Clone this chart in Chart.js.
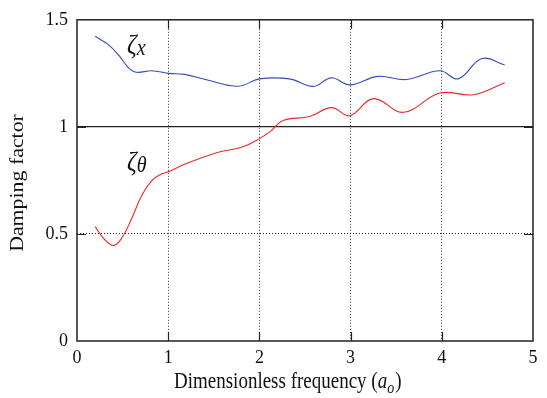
<!DOCTYPE html>
<html>
<head>
<meta charset="utf-8">
<script src="https://cdn.jsdelivr.net/npm/chart.js@4.4.0/dist/chart.umd.min.js"></script>
<style>
  html, body { margin: 0; padding: 0; background: #fff; }
  #wrap { width: 547px; height: 398px; position: relative; }
</style>
</head>
<body>
<div id="wrap"><canvas id="chart" width="547" height="398"></canvas></div>
<script>
// data
const xTicks = [0, 1, 2, 3, 4, 5];
const yTicks = [0, 0.5, 1, 1.5];

const zetaXFreq = [0.2, 0.34, 0.45, 0.56, 0.65, 0.82, 1.0, 1.18, 1.42, 1.77, 2.0, 2.33, 2.59, 2.79, 2.99, 3.3, 3.61, 3.98, 4.18, 4.44, 4.69];
const zetaX = [1.423, 1.385, 1.339, 1.278, 1.255, 1.262, 1.25, 1.245, 1.22, 1.19, 1.224, 1.224, 1.189, 1.229, 1.196, 1.236, 1.221, 1.262, 1.224, 1.319, 1.289];

const zetaThFreq = [0.2, 0.29, 0.4, 0.49, 0.6, 0.71, 0.82, 0.91, 1.0, 1.18, 1.53, 1.82, 2.0, 2.12, 2.26, 2.55, 2.79, 2.99, 3.25, 3.58, 3.98, 4.35, 4.69];
const zetaTh = [0.534, 0.48, 0.446, 0.48, 0.572, 0.68, 0.749, 0.776, 0.79, 0.825, 0.879, 0.907, 0.945, 0.979, 1.03, 1.048, 1.09, 1.052, 1.132, 1.068, 1.158, 1.15, 1.206];

const SERIF = '"Liberation Serif", "Times New Roman", serif';

function toPoints(xs, ys) {
    return xs.map((x, i) => ({ x: x, y: ys[i] }));
}

// frame, inward ticks, axis titles and curve labels
const decorations = {
    id: 'decorations',
    afterDraw(chart) {
        const ctx = chart.ctx;
        const a = chart.chartArea;
        const xs = chart.scales.x;
        const ys = chart.scales.y;
        const tl = 9;

        ctx.save();
        ctx.strokeStyle = '#222';
        ctx.lineWidth = 1.5;
        ctx.strokeRect(a.left, a.top, a.right - a.left, a.bottom - a.top);

        ctx.lineWidth = 1.2;
        ctx.beginPath();
        xTicks.slice(1, -1).forEach(v => {
            const px = Math.round(xs.getPixelForValue(v)) + 0.5;
            ctx.moveTo(px, a.top); ctx.lineTo(px, a.top + tl);
            ctx.moveTo(px, a.bottom); ctx.lineTo(px, a.bottom - tl);
        });
        yTicks.slice(1, -1).forEach(v => {
            const py = Math.round(ys.getPixelForValue(v)) + 0.5;
            ctx.moveTo(a.left, py); ctx.lineTo(a.left + tl, py);
            ctx.moveTo(a.right, py); ctx.lineTo(a.right - tl, py);
        });
        ctx.stroke();

        ctx.fillStyle = '#111';
        ctx.textBaseline = 'alphabetic';
        ctx.textAlign = 'left';

        // x title
        ctx.save();
        ctx.translate(174, 388);
        ctx.scale(1, 1.2);
        let x = 0;
        ctx.font = '19px ' + SERIF;
        const t1 = 'Dimensionless frequency (';
        ctx.fillText(t1, x, 0); x += ctx.measureText(t1).width;
        ctx.font = 'italic 19px ' + SERIF;
        ctx.fillText('a', x, 0); x += ctx.measureText('a').width;
        ctx.font = 'italic 14px ' + SERIF;
        ctx.fillText('o', x, 4); x += ctx.measureText('o').width + 1;
        ctx.font = '19px ' + SERIF;
        ctx.fillText(')', x, 0);
        ctx.restore();

        // y title
        ctx.save();
        ctx.translate(23, 183);
        ctx.rotate(-Math.PI / 2);
        ctx.scale(1.15, 1);
        ctx.font = '19px ' + SERIF;
        ctx.textAlign = 'center';
        ctx.fillText('Damping factor', 0, 0);
        ctx.restore();

        // curve labels
        const label = (sub, px, py) => {
            ctx.save();
            ctx.translate(px, py);
            ctx.scale(1, 1.12);
            ctx.font = 'italic 24px ' + SERIF;
            ctx.fillText('\u03b6', 0, 0);
            const w = ctx.measureText('\u03b6').width;
            ctx.font = 'italic 20px ' + SERIF;
            ctx.fillText(sub, w, 2);
            ctx.restore();
        };
        label('x', 127, 53);
        label('\u03b8', 127, 170);

        ctx.restore();
    }
};

new Chart(document.getElementById('chart'), {
    type: 'line',
    data: {
        datasets: [{
            label: 'zeta x',
            data: toPoints(zetaXFreq, zetaX),
            borderColor: 'rgb(55, 75, 185)',
            borderWidth: 1.1,
            pointRadius: 0,
            fill: false,
            tension: 0.4
        }, {
            label: 'zeta theta',
            data: toPoints(zetaThFreq, zetaTh),
            borderColor: 'rgb(232, 40, 35)',
            borderWidth: 1.1,
            pointRadius: 0,
            fill: false,
            tension: 0.4
        }]
    },
    options: {
        responsive: false,
        animation: false,
        layout: { padding: { left: 0, top: 15, right: 14, bottom: 0 } },
        plugins: {
            legend: { display: false },
            tooltip: { enabled: false }
        },
        scales: {
            x: {
                type: 'linear',
                min: 0,
                max: 5,
                afterBuildTicks: s => { s.ticks = xTicks.map(v => ({ value: v })); },
                afterFit: s => { s.height = 57; },
                grid: {
                    drawTicks: false,
                    lineWidth: 1,
                    color: c => (c.tick && c.tick.value > 0 && c.tick.value < 5) ? '#333' : 'rgba(0,0,0,0)'
                },
                border: { display: false, dash: [1, 2] },
                ticks: {
                    padding: 6,
                    color: '#111',
                    font: { family: SERIF, size: 18 },
                    callback: v => String(v)
                }
            },
            y: {
                type: 'linear',
                min: 0,
                max: 1.5,
                afterBuildTicks: s => { s.ticks = yTicks.map(v => ({ value: v })); },
                afterFit: s => { s.width = 77; },
                grid: {
                    drawTicks: false,
                    lineWidth: c => (c.tick && c.tick.value === 1) ? 1.2 : 1,
                    color: c => (c.tick && (c.tick.value === 0.5 || c.tick.value === 1)) ? '#222' : 'rgba(0,0,0,0)'
                },
                border: {
                    display: false,
                    dash: c => (c.tick && c.tick.value === 1) ? [] : [1, 2]
                },
                ticks: {
                    padding: 9,
                    color: '#111',
                    font: { family: SERIF, size: 18 },
                    callback: v => String(v)
                }
            }
        }
    },
    plugins: [decorations]
});
</script>
</body>
</html>
